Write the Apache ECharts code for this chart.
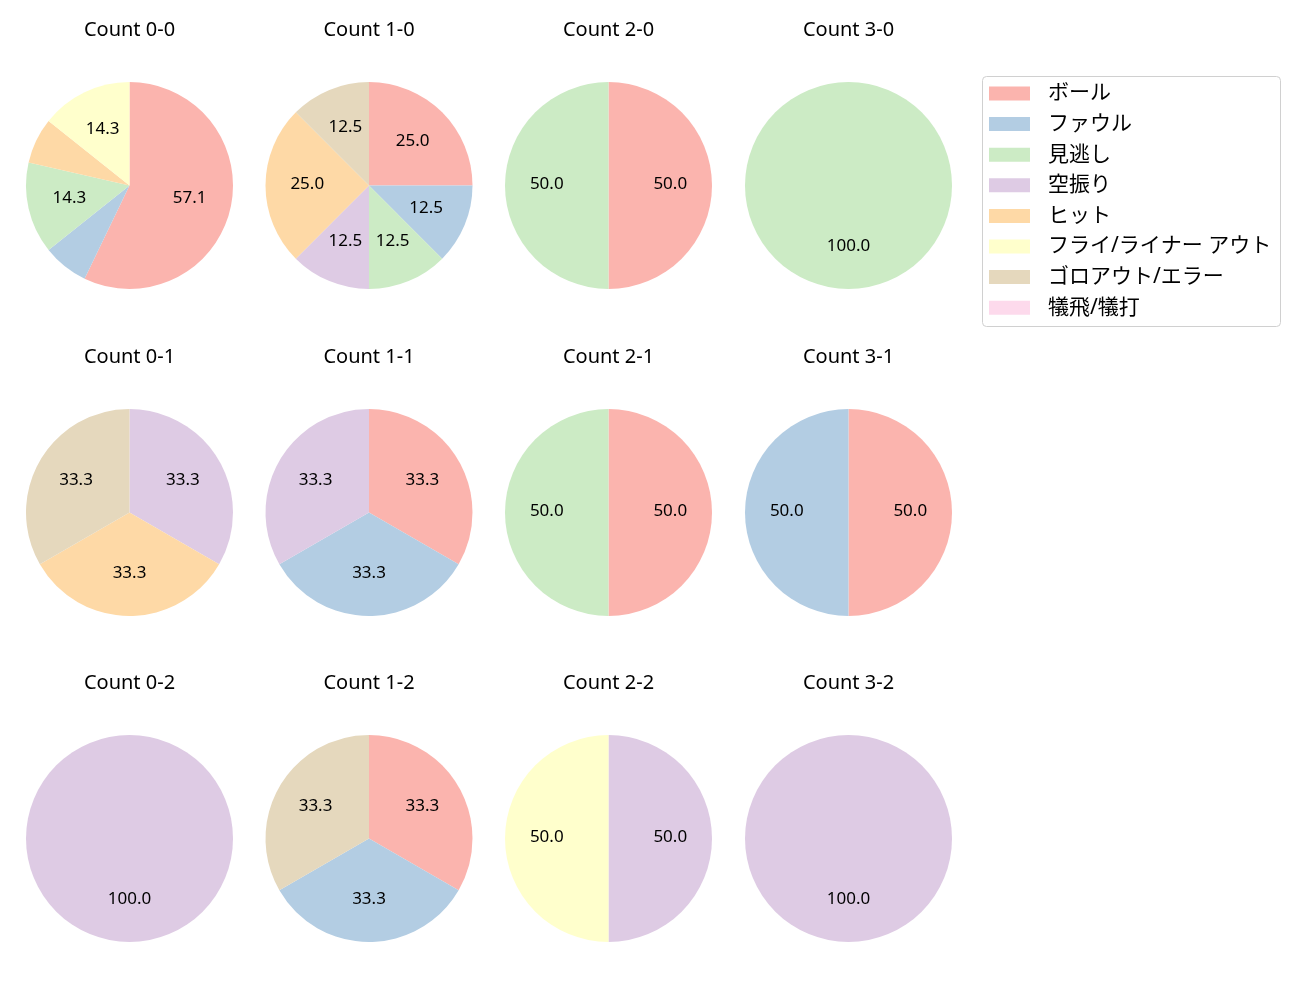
<!DOCTYPE html>
<html>
<head>
<meta charset="utf-8">
<script src="https://cdn.jsdelivr.net/npm/echarts@6/dist/echarts.min.js"></script>
<style>html,body{margin:0;padding:0;background:#fff}#c{width:1300px;height:1000px}</style>
</head>
<body>
<div id="c"></div>
<script>
const categories = ['ボール','ファウル','見逃し','空振り','ヒット','フライ/ライナー アウト','ゴロアウト/エラー','犠飛/犠打'];
const colors = ['#fbb4ae','#b3cde3','#ccebc5','#decbe4','#fed9a6','#ffffcc','#e5d8bd','#fddaec'];
const countLabels = ['Count 0-0','Count 1-0','Count 2-0','Count 3-0',
                     'Count 0-1','Count 1-1','Count 2-1','Count 3-1',
                     'Count 0-2','Count 1-2','Count 2-2','Count 3-2'];
const c00 = [8,1,2,0,1,2,0,0];
const c10 = [2,1,1,1,2,0,1,0];
const c20 = [1,0,1,0,0,0,0,0];
const c30 = [0,0,1,0,0,0,0,0];
const c01 = [0,0,0,1,1,0,1,0];
const c11 = [1,1,0,1,0,0,0,0];
const c21 = [1,0,1,0,0,0,0,0];
const c31 = [1,1,0,0,0,0,0,0];
const c02 = [0,0,0,1,0,0,0,0];
const c12 = [1,1,0,0,0,0,1,0];
const c22 = [0,0,0,1,0,1,0,0];
const c32 = [0,0,0,1,0,0,0,0];
const countValues = [c00,c10,c20,c30,c01,c11,c21,c31,c02,c12,c22,c32];

const FONT = '"Noto Sans", "Noto Sans CJK JP", sans-serif';
const colX = [129.5, 369, 608.5, 848.5];
const rowY = [185.5, 512.5, 838.5];
const titleY = [30, 357, 683];
const R = 103.5;

const series = [];
const labelSeries = [];
const graphics = [{
  type:'rect', shape:{x:982.5,y:76.5,width:298,height:250,r:4},
  style:{fill:'#fff',stroke:'#d0d0d0',lineWidth:1}, z:-1
}];
countValues.forEach((vals, i) => {
  const col = i % 4, row = Math.floor(i / 4);
  const total = vals.reduce((a,b)=>a+b,0);
  const data = categories.map((n,k)=>({name:n, value:vals[k], itemStyle:{color:colors[k]}}));
  series.push({
    type:'pie', center:[colX[col], rowY[row]], radius:[0, R],
    startAngle:90, clockwise:true, avoidLabelOverlap:false,
    label:{show:false}, labelLine:{show:false}, silent:true,
    emphasis:{disabled:true}, itemStyle:{borderWidth:0},
    data: data
  });
  labelSeries.push({
    type:'pie', center:[colX[col], rowY[row]], radius:[14, R],
    startAngle:90, clockwise:true, avoidLabelOverlap:false, silent:true,
    emphasis:{disabled:true}, labelLine:{show:false},
    itemStyle:{color:'rgba(0,0,0,0)', borderWidth:0},
    label:{show:true, position:'inside', color:'#000', fontSize:17, fontFamily:FONT, offset:[0,-1],
      formatter: p => { const pct = p.value/total*100; return pct >= 10 ? pct.toFixed(1) : ''; }},
    data: categories.map((n,k)=>({name:'lbl'+k, value:vals[k]})),
    z:3
  });
  graphics.push({
    type:'text', x:colX[col], y:titleY[row],
    style:{text:countLabels[i], align:'center', verticalAlign:'middle', font:'20px ' + FONT, fill:'#000'}
  });
});

const chart = echarts.init(document.getElementById('c'), null, {renderer:'canvas'});
chart.setOption({
  animation:false,
  backgroundColor:'#fff',
  legend:{
    orient:'vertical', left:989, top:82.5, padding:0,
    data: categories, icon:'rect', itemWidth:41, itemHeight:14, itemGap:8.6,
    selectedMode:false,
    textStyle:{fontSize:21, lineHeight:22, color:'#000', fontFamily:FONT, padding:[0,0,0,13]}
  },
  graphic: graphics,
  series: series.concat(labelSeries)
});
</script>
</body>
</html>
